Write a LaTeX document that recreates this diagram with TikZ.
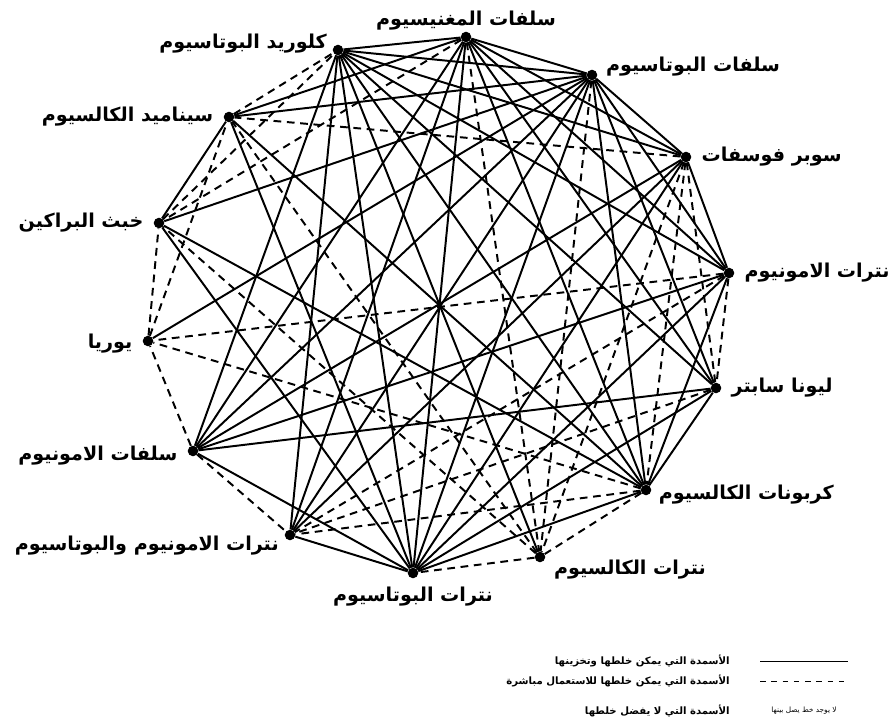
\documentclass[tikz,border=0pt]{standalone}
\usepackage{fontspec}
\newfontfamily\arabicfont[Script=Arabic]{DejaVu Sans}
\TeXXeTstate=1
\usetikzlibrary{positioning}

\tikzset{
  dot/.style={circle, fill=black, inner sep=0pt, minimum size=7.5pt},
  lbl/.style={font=\arabicfont\bfseries\fontsize{13.6}{15}\selectfont, inner sep=1pt},
  mix/.style={line width=1.4pt},
  now/.style={line width=1.4pt, dash pattern=on 5.5pt off 4pt},
  key/.style={font=\arabicfont\bfseries\fontsize{7.2}{8}\selectfont, inner sep=0pt}
}
\newcommand{\ar}[1]{\beginR #1\endR}

\begin{document}
\begin{tikzpicture}[x=0.025cm, y=-0.025cm]
    \useasboundingbox (0,0) rectangle (893,722);

    % Fertilizers on the ring
    \node[dot] (ms)  at (466,37)  {};
    \node[dot] (ps)  at (592,75)  {};
    \node[dot] (sp)  at (686,157) {};
    \node[dot] (an)  at (729,273) {};
    \node[dot] (ls)  at (716,388) {};
    \node[dot] (cc)  at (646,490) {};
    \node[dot] (cn)  at (540,557) {};
    \node[dot] (pn)  at (413,573) {};
    \node[dot] (apn) at (290,535) {};
    \node[dot] (as)  at (193,451) {};
    \node[dot] (ur)  at (148,341) {};
    \node[dot] (sl)  at (159,223) {};
    \node[dot] (cy)  at (229,117) {};
    \node[dot] (pc)  at (338,50)  {};

    % Names
    \node[lbl, above=0pt of ms]  {\ar{سلفات المغنيسيوم}};
    \node[lbl, above right=-5pt and 6pt of ps] {\ar{سلفات البوتاسيوم}};
    \node[lbl, right=6pt of sp]  {\ar{سوبر فوسفات}};
    \node[lbl, right=6pt of an]  {\ar{نترات الامونيوم}};
    \node[lbl, right=6pt of ls]  {\ar{ليونا سابتر}};
    \node[lbl, right=4pt of cc, yshift=-3pt]  {\ar{كربونات الكالسيوم}};
    \node[lbl, below right=-2pt and 6pt of cn] {\ar{نترات الكالسيوم}};
    \node[lbl, below=5pt of pn]  {\ar{نترات البوتاسيوم}};
    \node[lbl, below left=-3pt and 4pt of apn] {\ar{نترات الامونيوم والبوتاسيوم}};
    \node[lbl, left=6pt of as, yshift=-3pt]   {\ar{سلفات الامونيوم}};
    \node[lbl, left=6pt of ur, yshift=-2pt]   {\ar{يوريا}};
    \node[lbl, left=6pt of sl]   {\ar{خبث البراكين}};
    \node[lbl, left=6pt of cy]   {\ar{سيناميد الكالسيوم}};
    \node[lbl, above left=-6pt and 4pt of pc] {\ar{كلوريد البوتاسيوم}};

    % Can be mixed and stored
    \foreach \a/\b in {ms/ps, ms/sp, ms/an, ms/ls, ms/cc, ms/pn, ms/apn, ms/as, ms/pc, ms/cy,
                       ps/sp, ps/an, ps/ls, ps/cc, ps/pn, ps/apn, ps/as, ps/ur, ps/sl, ps/cy, ps/pc,
                       sp/an, sp/pn, sp/apn, sp/as, sp/pc,
                       an/cc, an/pc, an/as, an/pn,
                       ls/cc, ls/pc, ls/as, ls/pn,
                       cc/pc, cc/sl, cc/pn, cc/cy,
                       cn/pc,
                       pn/apn, pn/as, pn/sl, pn/cy, pn/pc,
                       apn/pc, as/pc, sl/cy}
        \draw[mix] (\a) -- (\b);

    % Mix only just before use
    \foreach \a/\b in {ms/cn, ms/sl, ps/cn, sp/ls, sp/cc, sp/cn, sp/cy,
                       an/ls, an/ur, an/apn, ls/apn, cc/apn, cc/cn, cc/ur,
                       cn/pn, cn/sl, cn/cy, as/apn, as/ur, ur/sl, ur/cy, sl/pc, cy/pc}
        \draw[now] (\a) -- (\b);

    % Key
    \coordinate (k1a) at (760,661); \coordinate (k1b) at (848,661);
    \coordinate (k2a) at (760,681); \coordinate (k2b) at (848,681);
    \draw[line width=0.7pt] (k1a) -- (k1b);
    \draw[line width=0.7pt, dash pattern=on 4pt off 4pt] (k2a) -- (k2b);
    \node[key, anchor=east] at (730,661) {\ar{الأسمدة التي يمكن خلطها وتخزينها}};
    \node[key, anchor=east] at (730,681) {\ar{الأسمدة التي يمكن خلطها للاستعمال مباشرة}};
    \node[key, anchor=east] at (730,711) {\ar{الأسمدة التي لا يفضل خلطها}};
    \node[key, anchor=center, font=\arabicfont\fontsize{5.2}{6}\selectfont] at (804,711) {\ar{لا يوجد خط يصل بينها}};
\end{tikzpicture}
\end{document}
